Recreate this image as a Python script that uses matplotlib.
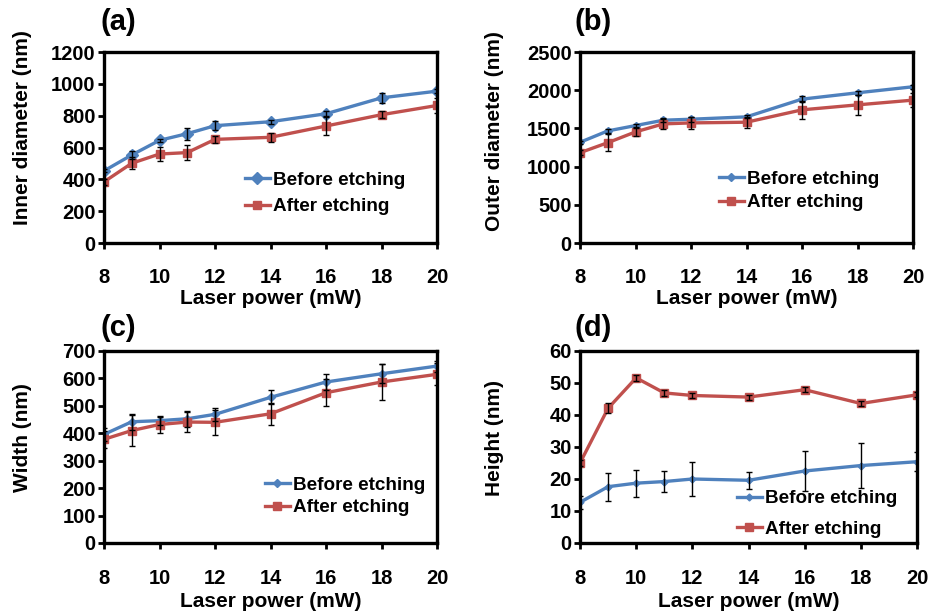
import matplotlib
matplotlib.use("Agg")
import matplotlib.pyplot as plt

plt.rcParams['font.family'] = ['Liberation Sans', 'DejaVu Sans']
plt.rcParams['font.weight'] = 'bold'

power = [8, 9, 10, 11, 12, 14, 16, 18, 20]
xticks = [8, 10, 12, 14, 16, 18, 20]

inner_before = [453, 553, 645, 687, 737, 762, 812, 912, 954]
inner_before_err = [10, 27, 10, 38, 30, 12, 15, 30, 12]
inner_after = [384, 501, 559, 568, 651, 664, 735, 806, 864]
inner_after_err = [20, 37, 45, 45, 22, 30, 55, 22, 50]

outer_before = [1318, 1467, 1537, 1607, 1620, 1651, 1883, 1966, 2045]
outer_before_err = [20, 30, 25, 25, 30, 20, 40, 25, 25]
outer_after = [1182, 1313, 1454, 1559, 1572, 1581, 1743, 1808, 1870]
outer_after_err = [30, 115, 50, 70, 80, 70, 120, 135, 90]

width_before = [396, 442, 446, 453, 469, 531, 587, 617, 645]
width_before_err = [25, 30, 15, 30, 25, 25, 30, 35, 20]
width_after = [378, 410, 432, 441, 440, 471, 548, 587, 615]
width_after_err = [30, 57, 30, 35, 45, 40, 50, 65, 40]

height_before = [12.7, 17.6, 18.7, 19.2, 20.0, 19.6, 22.5, 24.2, 25.4]
height_before_err = [2.0, 4.4, 4.2, 3.2, 5.2, 2.6, 6.2, 6.9, 2.9]
height_after = [25.0, 42.1, 51.6, 46.9, 46.1, 45.6, 47.9, 43.6, 46.3]
height_after_err = [1.0, 1.5, 1.0, 1.0, 0.8, 0.8, 0.8, 0.8, 0.8]

labels = ["Before etching", "After etching"]
BLUE = '#4F81BD'
RED = '#C0504D'

W, H = 932, 613
fig = plt.figure(figsize=(W / 100, H / 100), dpi=100)

panels = [
    dict(box=(104, 52, 437, 243), tag="(a)", tagxy=(100, 22), ylabel="Inner diameter (nm)",
         ylim=(0, 1200), ystep=200, b=inner_before, be=inner_before_err, a=inner_after, ae=inner_after_err,
         ylc=(23, 128), xlt=289, xpad=14, leg=(245, 193.5), ls=0.5, dms=6),
    dict(box=(580, 52, 913, 243), tag="(b)", tagxy=(574, 22), ylabel="Outer diameter (nm)",
         ylim=(0, 2500), ystep=500, b=outer_before, be=outer_before_err, a=outer_after, ae=outer_after_err,
         ylc=(494, 131), xlt=289, xpad=14, leg=(719, 191), ls=0.33, dms=4),
    dict(box=(104, 351, 437, 543), tag="(c)", tagxy=(100, 328), ylabel="Width (nm)",
         ylim=(0, 700), ystep=100, b=width_before, be=width_before_err, a=width_after, ae=width_after_err,
         ylc=(23, 438), xlt=592, xpad=15, leg=(265, 496.5), ls=0.28, dms=4),
    dict(box=(580, 351, 917, 543), tag="(d)", tagxy=(574, 328), ylabel="Height (nm)",
         ylim=(0, 60), ystep=10, b=height_before, be=height_before_err, a=height_after, ae=height_after_err,
         ylc=(494, 438), xlt=592, xpad=15, leg=(737, 514), ls=0.72, dms=3.5),
]

TFS = 14.5
LFS = 15
GFS = 13.6
for p in panels:
    l, t, r, btm = p['box']
    ax = fig.add_axes([l / W, 1 - btm / H, (r - l) / W, (btm - t) / H])
    ax.errorbar(power, p['b'], yerr=p['be'], fmt='none', ecolor='black', elinewidth=1,
                capsize=2.5, capthick=1, zorder=3)
    ax.errorbar(power, p['a'], yerr=p['ae'], fmt='none', ecolor='black', elinewidth=1,
                capsize=2.5, capthick=1, zorder=3)
    ax.plot(power, p['b'], color=BLUE, lw=2.4, marker='D', ms=p['dms'], label=labels[0], zorder=2)
    ax.plot(power, p['a'], color=RED, lw=2.4, marker='s', ms=5.5, label=labels[1], zorder=2)
    ax.set_xlim(8, 20)
    ax.set_ylim(*p['ylim'])
    ax.set_xticks(xticks)
    ax.set_yticks(range(p['ylim'][0], p['ylim'][1] + 1, p['ystep']))
    for s in ax.spines.values():
        s.set_linewidth(2.4)
    ax.tick_params(axis='both', direction='out', length=4, width=2, labelsize=TFS)
    ax.tick_params(axis='x', pad=p['xpad'])
    ax.tick_params(axis='y', pad=2)
    for lab in ax.get_xticklabels() + ax.get_yticklabels():
        lab.set_fontweight('bold')
    ax.set_xlabel("Laser power (mW)", fontsize=LFS, fontweight='bold', va='top')
    ax.xaxis.set_label_coords(0.5, (btm - p['xlt']) / (btm - t))
    ax.set_ylabel(p['ylabel'], fontsize=LFS, fontweight='bold')
    ax.yaxis.label.set_va('center')
    ax.yaxis.set_label_coords((p['ylc'][0] - l) / (r - l), (btm - p['ylc'][1]) / (btm - t))
    lx, ly = p['leg']
    ax.legend(loc='center left', bbox_to_anchor=((lx - l) / (r - l), (btm - ly) / (btm - t)),
              frameon=False, handlelength=1.3, handletextpad=0.2,
              borderpad=0, borderaxespad=0, labelspacing=p['ls'],
              prop=dict(weight='bold', size=GFS))
    fig.text(p['tagxy'][0] / W, 1 - p['tagxy'][1] / H, p['tag'], fontsize=21, fontweight='bold',
             ha='left', va='center')

fig.savefig("out.png", dpi=100)
